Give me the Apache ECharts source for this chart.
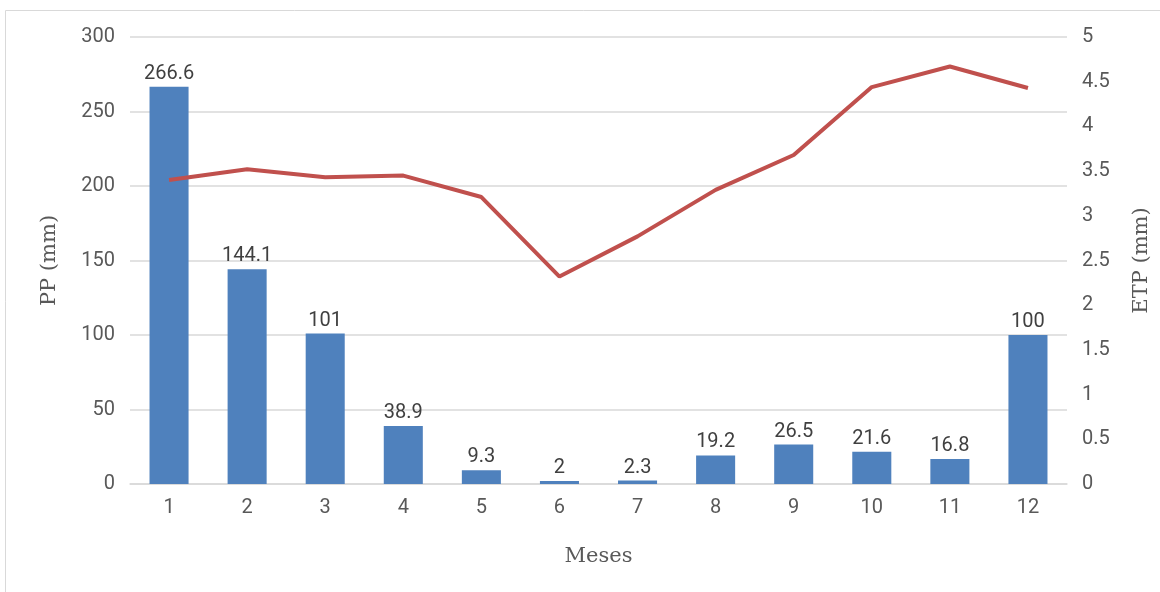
<!DOCTYPE html>
<html>
<head>
<meta charset="utf-8">
<script src="https://cdn.jsdelivr.net/npm/echarts@6/dist/echarts.min.js"></script>
<style>
html,body{margin:0;padding:0;background:#fff;}
#chart{width:1160px;height:592px;}
</style>
</head>
<body>
<div id="chart"></div>
<script>
const months = ['1','2','3','4','5','6','7','8','9','10','11','12'];
const ppValues = [266.6, 144.1, 101, 38.9, 9.3, 2, 2.3, 19.2, 26.5, 21.6, 16.8, 100];
const etpValues = [3.40, 3.52, 3.43, 3.45, 3.21, 2.32, 2.77, 3.29, 3.68, 4.44, 4.67, 4.43];

const chart = echarts.init(document.getElementById('chart'));
const tickFont = {color:'#595959', fontFamily:'Roboto', fontSize:20};
const titleFont = {color:'#595959', fontFamily:'DejaVu Serif', fontSize:21};
chart.setOption({
  animation:false,
  graphic:[{type:'rect', shape:{x:5.5,y:10.5,width:1170,height:600}, style:{fill:'none', stroke:'#d9d9d9', lineWidth:1}, silent:true, z:-1}],
  grid:{left:130, right:90, top:37, bottom:108},
  xAxis:{
    type:'category', data:months, boundaryGap:true,
    name:'Meses', nameLocation:'middle', nameGap:62, nameTextStyle:titleFont,
    axisLine:{lineStyle:{color:'#d9d9d9', width:1.5}},
    axisTick:{show:false},
    axisLabel:Object.assign({margin:14}, tickFont)
  },
  yAxis:[
    {type:'value', min:0, max:300, interval:50,
     name:'PP (mm)', nameLocation:'middle', nameGap:70, nameRotate:90, nameTextStyle:titleFont,
     axisLine:{show:false}, axisTick:{show:false},
     axisLabel:Object.assign({margin:15}, tickFont),
     splitLine:{lineStyle:{color:'#d9d9d9', width:1.5}}},
    {type:'value', min:0, max:5, interval:0.5, position:'right',
     name:'ETP (mm)', nameLocation:'middle', nameGap:64, nameRotate:90, nameTextStyle:titleFont,
     axisLine:{show:false}, axisTick:{show:false},
     axisLabel:Object.assign({margin:15}, tickFont),
     splitLine:{show:false}}
  ],
  series:[
    {type:'bar', data:ppValues, yAxisIndex:0, barWidth:'50%',
     itemStyle:{color:'#4f81bd'},
     label:{show:true, position:'top', distance:3, color:'#404040', fontFamily:'Roboto', fontSize:20}},
    {type:'line', data:etpValues, yAxisIndex:1, symbol:'none',
     lineStyle:{color:'#c0504d', width:4}, itemStyle:{color:'#c0504d'}}
  ]
});
</script>
</body>
</html>
